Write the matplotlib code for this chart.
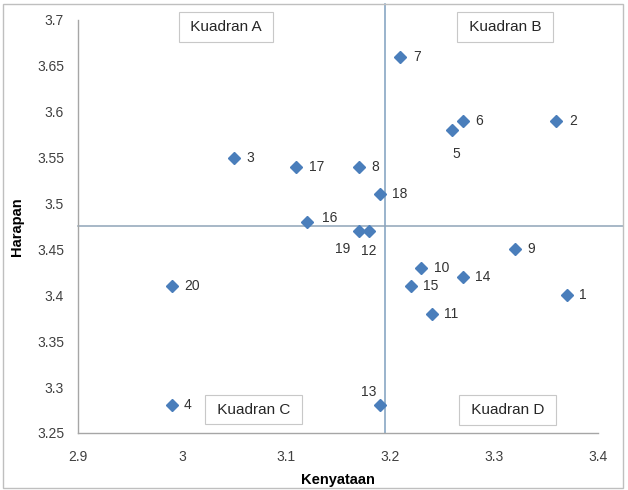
import matplotlib.pyplot as plt
from matplotlib.patches import Rectangle

plt.rcParams['font.family'] = ['Liberation Sans', 'DejaVu Sans']

# Data: Kenyataan (x) vs Harapan (y) for 20 atribut
nomor = [str(i) for i in range(1, 21)]
kenyataan = [3.37, 3.36, 3.05, 2.99, 3.26, 3.27, 3.21, 3.17, 3.32, 3.23,
             3.24, 3.18, 3.19, 3.27, 3.22, 3.12, 3.11, 3.19, 3.17, 2.99]
harapan = [3.40, 3.59, 3.55, 3.28, 3.58, 3.59, 3.66, 3.54, 3.45, 3.43,
           3.38, 3.47, 3.28, 3.42, 3.41, 3.48, 3.54, 3.51, 3.47, 3.41]

# garis rata-rata
rata_kenyataan = 3.195
rata_harapan = 3.475

kuadran = ["Kuadran A", "Kuadran B", "Kuadran C", "Kuadran D"]
kuadran_x = [3.042, 3.311, 3.069, 3.313]
kuadran_y = [3.6925, 3.6925, 3.2755, 3.2750]

# label offsets in points (dx, dy)
offset_label = {"5": (3, -17), "19": (-12, -13), "12": (0, -14), "13": (-8, 10),
                "16": (11, 3)}

fig = plt.figure(figsize=(6.28, 4.90), dpi=100)
ax = fig.add_axes([78 / 628, 1 - 433 / 490, 520 / 628, 413 / 490])

ax.plot(kenyataan, harapan, linestyle="none", marker="D", markersize=6,
        color="#4a7ebb", zorder=3)

for n, x, y in zip(nomor, kenyataan, harapan):
    dx, dy = offset_label.get(n, (9, 0))
    ha = "left" if dx > 4 else "center"
    ax.annotate(n, (x, y), xytext=(dx, dy), textcoords="offset points",
                ha=ha, va="center", fontsize=10, color="#333333")

# garis kuadran
ax.plot([rata_kenyataan, rata_kenyataan], [3.25, 3.717], color="#7f9fbf",
        linewidth=1.1, clip_on=False, zorder=2)
ax.plot([2.9, 3.4243], [rata_harapan, rata_harapan], color="#8fa4b8",
        linewidth=1.1, clip_on=False, zorder=2)

for teks, x, y in zip(kuadran, kuadran_x, kuadran_y):
    ax.text(x, y, " " + teks + " ", ha="center", va="center", fontsize=11,
            color="#262626",
            bbox=dict(boxstyle="square,pad=0.5", facecolor="white",
                      edgecolor="#c8c8c8", linewidth=0.8), zorder=4)

ax.set_xlim(2.9, 3.4)
ax.set_ylim(3.25, 3.7)
ax.set_xticks([2.9, 3.0, 3.1, 3.2, 3.3, 3.4])
ax.set_xticklabels(["2.9", "3", "3.1", "3.2", "3.3", "3.4"])
ax.set_yticks([3.25, 3.3, 3.35, 3.4, 3.45, 3.5, 3.55, 3.6, 3.65, 3.7])
ax.set_yticklabels(["3.25", "3.3", "3.35", "3.4", "3.45", "3.5", "3.55",
                    "3.6", "3.65", "3.7"])
ax.tick_params(length=0, labelsize=10, labelcolor="#404040")
ax.tick_params(axis="y", pad=10)
ax.tick_params(axis="x", pad=12)
for s in ["top", "right"]:
    ax.spines[s].set_visible(False)
for s in ["left", "bottom"]:
    ax.spines[s].set_color("#a6a6a6")
    ax.spines[s].set_linewidth(1.0)

ax.set_xlabel("Kenyataan", fontsize=10.5, fontweight="bold", labelpad=7)
ax.set_ylabel("Harapan", fontsize=10.5, fontweight="bold", labelpad=9)

# bingkai luar
fig.patches.append(Rectangle((3 / 628, 2 / 490), 620 / 628, 484 / 490,
                             transform=fig.transFigure, fill=False,
                             edgecolor="#bfbfbf", linewidth=1.0))

fig.savefig("out.png", dpi=100)
